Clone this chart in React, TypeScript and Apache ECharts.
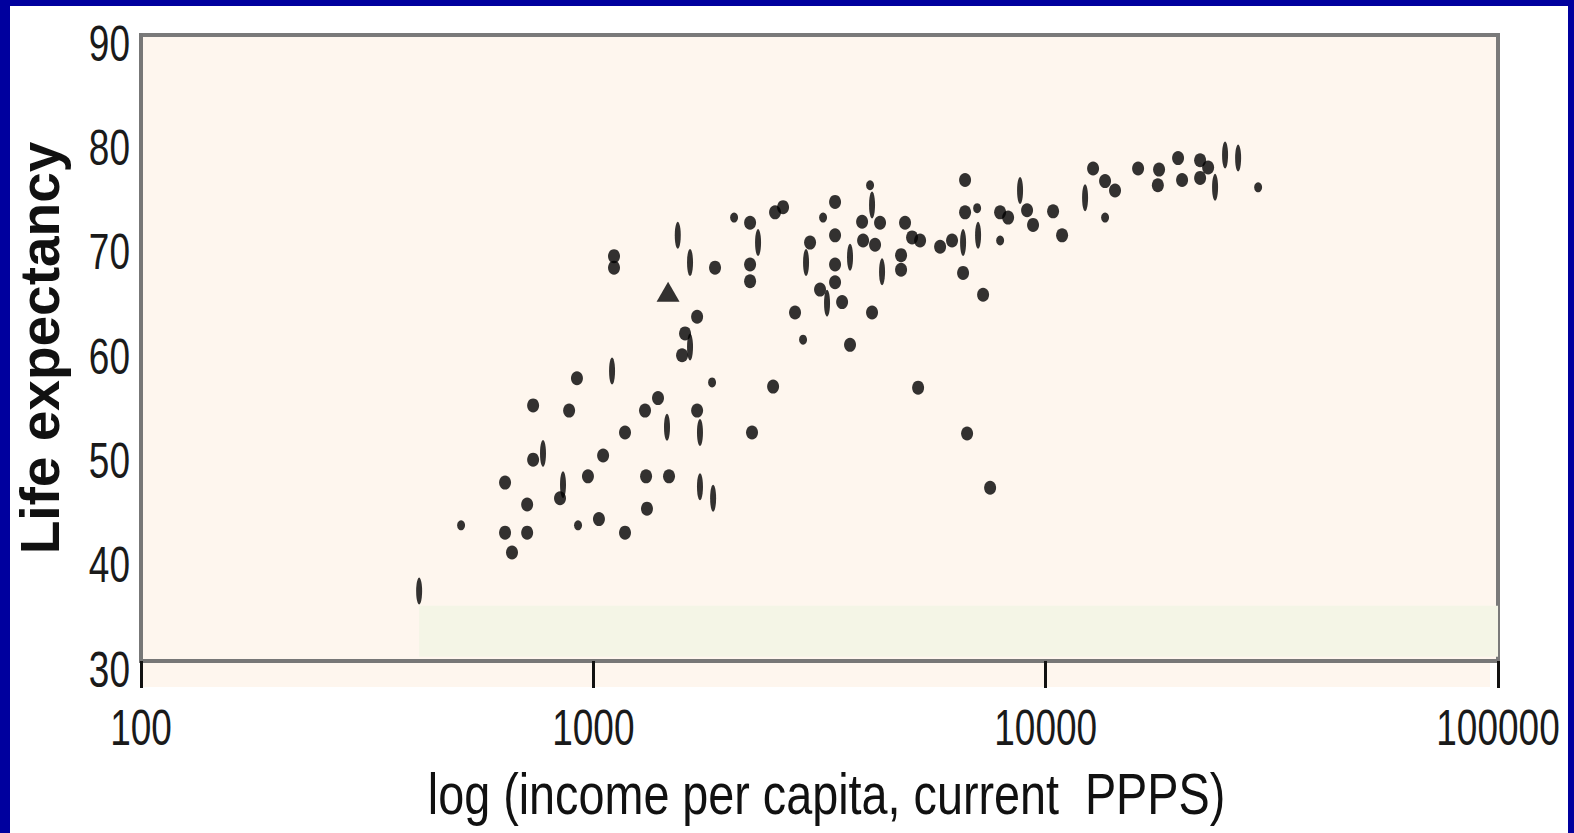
import React, { useEffect, useRef } from "react";
import * as echarts from "echarts";

// ---- data (income per capita in PPP $, life expectancy in years) ----
const xTickValues = [100, 1000, 10000, 100000];
const yTickValues = [30, 40, 50, 60, 70, 80, 90];

const dotIncome = [
  638, 638, 661, 714, 714, 736, 736, 844, 884, 920, 973, 1029, 1051, 1111, 1111,
  1175, 1175, 1301, 1390, 1308, 1314, 1470, 1571, 1595, 1696, 1696, 1858, 2221,
  2221, 2221, 2243, 2497, 2522, 2627, 2792, 3014, 3423, 3423, 3423, 3423, 3171,
  3548, 3694, 3928, 3948, 4132, 4196, 4304, 4790, 4790, 4888, 5066, 5224, 5277,
  5843, 6209, 6568, 6635, 6635, 6703, 7272, 7537, 7930, 8260, 9097, 9378, 10385,
  10872, 12730, 13530, 14235, 16008, 17812, 17700, 19621, 20026, 21950, 21950, 22866,
];
const dotLife = [
  47.1, 42.3, 40.4, 45.0, 42.3, 54.5, 49.3, 45.6, 54.0, 57.1, 47.7, 43.6, 49.7, 68.8, 67.7,
  51.9, 42.3, 54.0, 55.2, 47.7, 44.6, 47.7, 59.3, 61.4, 63.0, 54.0, 67.7, 72.0,
  68.0, 66.4, 51.9, 56.3, 73.0, 73.5, 63.4, 70.1, 74.0, 70.8, 68.0, 66.3, 65.6,
  64.4, 60.3, 72.1, 70.3, 63.4, 69.9, 72.0, 68.9, 67.5, 72.0, 70.6, 56.2, 70.3,
  69.7, 70.3, 67.2, 76.1, 73.0, 51.8, 65.1, 46.6, 73.0, 72.5, 73.2, 71.8, 73.1,
  70.8, 77.2, 76.0, 75.1, 77.2, 77.1, 75.6, 78.2, 76.1, 78.0, 76.3, 77.3,
];

const smallIncome = [510, 925, 1830, 2047, 2908, 3220, 4090, 7054, 7930, 13530, 29488];
const smallLife = [43.0, 43.0, 56.7, 72.5, 60.8, 72.5, 75.6, 73.4, 70.3, 72.5, 75.4];

const barIncome = [
  412, 774, 857, 1100, 1455, 1537, 1636, 1636, 1721, 1721, 1840, 2313, 2953, 3286,
  3694, 4132, 4348, 6568, 7089, 8778, 12222, 23687, 24924, 26637,
];
const barLife = [
  36.7, 49.9, 46.9, 57.8, 52.4, 70.8, 60.1, 68.2, 51.9, 46.7, 45.6, 70.1, 68.2, 64.3,
  68.7, 73.7, 67.3, 70.1, 70.8, 75.1, 74.4, 75.4, 78.5, 78.2,
];

const triIncome = [1463];
const triLife = [65.4];

const xAxisTitle = "log (income per capita, current  PPPS)";
const yAxisTitle = "Life expectancy";

const zip = (xs: number[], ys: number[]) => xs.map((x, i) => [x, ys[i]]);

const sans = "'Liberation Sans', Arial, Helvetica, sans-serif";

export default function App() {
  const ref = useRef<HTMLDivElement>(null);

  useEffect(() => {
    if (!ref.current) return;
    const chart = echarts.init(ref.current, undefined, { renderer: "svg" });
    const markColor = "#000000";
    chart.setOption({
      animation: false,
      backgroundColor: "#ffffff",
      grid: {
        left: 131,
        top: 29,
        right: 70,
        bottom: 172,
        outerBoundsMode: "none",
        containLabel: false,
        show: true,
        backgroundColor: "#fef6ee",
        borderColor: "#7a7a7a",
        borderWidth: 4,
      },
      xAxis: {
        type: "log",
        logBase: 10,
        min: xTickValues[0],
        max: xTickValues[xTickValues.length - 1],
        splitLine: { show: false },
        axisLine: { show: true, lineStyle: { color: "#777777", width: 4 } },
        axisTick: { show: true, length: 27, lineStyle: { color: "#111111", width: 3 } },
        axisLabel: { show: false },
      },
      yAxis: {
        type: "value",
        min: yTickValues[0],
        max: yTickValues[yTickValues.length - 1],
        interval: 10,
        splitLine: { show: false },
        axisLine: { show: true, lineStyle: { color: "#777777", width: 4 } },
        axisTick: { show: false },
        axisLabel: { show: false },
        name: yAxisTitle,
        nameLocation: "middle",
        nameGap: 74,
        nameRotate: 90,
        nameTextStyle: {
          fontFamily: sans,
          fontWeight: "bold",
          fontSize: 55,
          color: "#111111",
        },
      },
      series: [
        {
          type: "scatter",
          name: "band",
          data: [],
          silent: true,
          markArea: {
            silent: true,
            itemStyle: { color: "#f4f5e6" },
            data: [[{ xAxis: 412, yAxis: 35.3 }, { xAxis: 100000, yAxis: 30.4 }]],
          },
        },
        {
          type: "scatter",
          name: "dots",
          symbol: "circle",
          symbolSize: [12, 14],
          itemStyle: { color: markColor },
          data: zip(dotIncome, dotLife),
        },
        {
          type: "scatter",
          name: "small",
          symbol: "circle",
          symbolSize: [8, 10],
          itemStyle: { color: markColor },
          data: zip(smallIncome, smallLife),
        },
        {
          type: "scatter",
          name: "bars",
          symbol: "circle",
          symbolSize: [6, 27],
          itemStyle: { color: markColor },
          data: zip(barIncome, barLife),
        },
        {
          type: "scatter",
          name: "triangle",
          symbol: "triangle",
          symbolSize: [23, 20],
          itemStyle: { color: markColor },
          data: zip(triIncome, triLife),
        },
      ],
    });

    // condensed tick labels and x-axis title, placed through the axes' own scales
    const px = (v: number) => chart.convertToPixel({ xAxisIndex: 0 }, v) as number;
    const py = (v: number) => chart.convertToPixel({ yAxisIndex: 0 }, v) as number;
    const left = px(xTickValues[0]);
    const right = px(xTickValues[xTickValues.length - 1]);
    const bottom = py(yTickValues[0]);
    const top = py(yTickValues[yTickValues.length - 1]);

    const labelStyle = (text: string, align: string) => ({
      text,
      fontFamily: sans,
      fontSize: 50,
      fill: "#1a1a1a",
      align,
      textAlign: align,
      verticalAlign: "middle",
      textVerticalAlign: "middle",
    });

    const graphics: any[] = [
      {
        type: "rect",
        z: -1,
        silent: true,
        shape: { x: left, y: bottom + 2, width: right - left - 8, height: 24 },
        style: { fill: "#fef6ee" },
      },
      {
        type: "rect",
        z: -1,
        silent: true,
        shape: { x: left + 7, y: top + 2, width: right - left - 9, height: 6 },
        style: { fill: "#f6eadd" },
      },
    ];
    xTickValues.forEach((v) => {
      graphics.push({
        type: "text",
        silent: true,
        x: px(v),
        y: bottom + 66,
        scaleX: 0.74,
        style: labelStyle(String(v), "center"),
      });
    });
    yTickValues.forEach((v) => {
      graphics.push({
        type: "text",
        silent: true,
        x: left - 11,
        y: py(v) + 8,
        scaleX: 0.74,
        style: labelStyle(String(v), "right"),
      });
    });
    graphics.push({
      type: "text",
      silent: true,
      x: (left + right) / 2 + 7,
      y: bottom + 133,
      scaleX: 0.806,
      style: {
        text: xAxisTitle,
        fontFamily: sans,
        fontSize: 58,
        fill: "#111111",
        align: "center",
        textAlign: "center",
        verticalAlign: "middle",
        textVerticalAlign: "middle",
      },
    });
    chart.setOption({ graphic: graphics });

    return () => chart.dispose();
  }, []);

  return (
    <div
      style={{
        position: "fixed",
        left: 0,
        top: 0,
        width: 1574,
        height: 833,
        background: "#00009e",
        overflow: "hidden",
      }}
    >
      <div
        ref={ref}
        style={{ position: "absolute", left: 10, top: 6, width: 1558, height: 827 }}
      />
    </div>
  );
}
